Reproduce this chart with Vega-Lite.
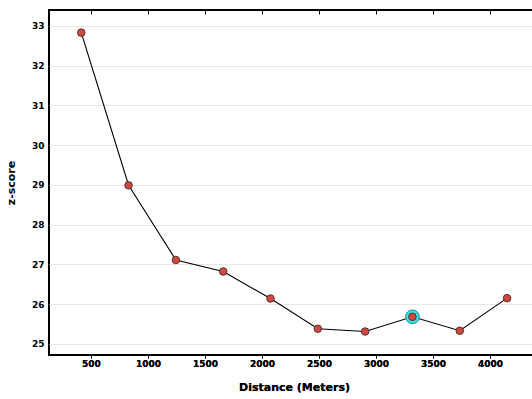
{
  "$schema": "https://vega.github.io/schema/vega-lite/v6.json",
  "width": 490,
  "height": 345,
  "autosize": {"type": "none"},
  "padding": {"left": 49, "top": 10, "right": 0, "bottom": 44},
  "background": "white",
  "config": {
    "view": {"stroke": "black", "strokeWidth": 2},
    "axis": {
      "labelFont": "DejaVu Sans",
      "titleFont": "DejaVu Sans",
      "labelFontWeight": "bold",
      "titleFontWeight": "bold",
      "labelFontSize": 9,
      "titleFontSize": 11,
      "labelColor": "black",
      "titleColor": "black",
      "tickColor": "black"
    }
  },
  "data": {
    "values": [
      {"d": 415, "z": 32.83},
      {"d": 830, "z": 28.99},
      {"d": 1245, "z": 27.11},
      {"d": 1660, "z": 26.82},
      {"d": 2075, "z": 26.14},
      {"d": 2490, "z": 25.38},
      {"d": 2905, "z": 25.31},
      {"d": 3320, "z": 25.68},
      {"d": 3735, "z": 25.33},
      {"d": 4150, "z": 26.15}
    ]
  },
  "resolve": {"axis": {"x": "independent"}},
  "encoding": {
    "x": {
      "field": "d",
      "type": "quantitative",
      "scale": {"domain": [132, 4430], "nice": false, "zero": false},
      "axis": {
        "title": "Distance (Meters)",
        "values": [500, 1000, 1500, 2000, 2500, 3000, 3500, 4000],
        "format": "d",
        "grid": false,
        "domain": false,
        "tickSize": 3,
        "labelPadding": 1,
        "titlePadding": 13
      }
    },
    "y": {
      "field": "z",
      "type": "quantitative",
      "scale": {"domain": [24.72, 33.4], "nice": false, "zero": false},
      "axis": {
        "title": "z-score",
        "values": [25, 26, 27, 28, 29, 30, 31, 32, 33],
        "format": "d",
        "grid": true,
        "gridColor": "#e6e6e6",
        "gridWidth": 1,
        "domain": false,
        "ticks": false,
        "labelPadding": 5,
        "titlePadding": 15
      }
    }
  },
  "layer": [
    {
      "mark": {"type": "line", "color": "black", "strokeWidth": 1.1},
      "encoding": {
        "x": {
          "field": "d",
          "type": "quantitative",
          "axis": {
            "orient": "top",
            "labels": false,
            "title": null,
            "grid": false,
            "domain": false,
            "tickSize": -4,
            "values": [500, 1000, 1500, 2000, 2500, 3000, 3500, 4000]
          }
        }
      }
    },
    {
      "transform": [{"filter": "datum.d == 3320"}],
      "mark": {"type": "circle", "size": 190, "fill": "#40dfe3", "stroke": "#1c8f95", "strokeWidth": 1, "opacity": 1}
    },
    {
      "mark": {"type": "circle", "size": 58, "fill": "#cd4a42", "stroke": "#3a2020", "strokeWidth": 0.8, "opacity": 1}
    }
  ]
}
